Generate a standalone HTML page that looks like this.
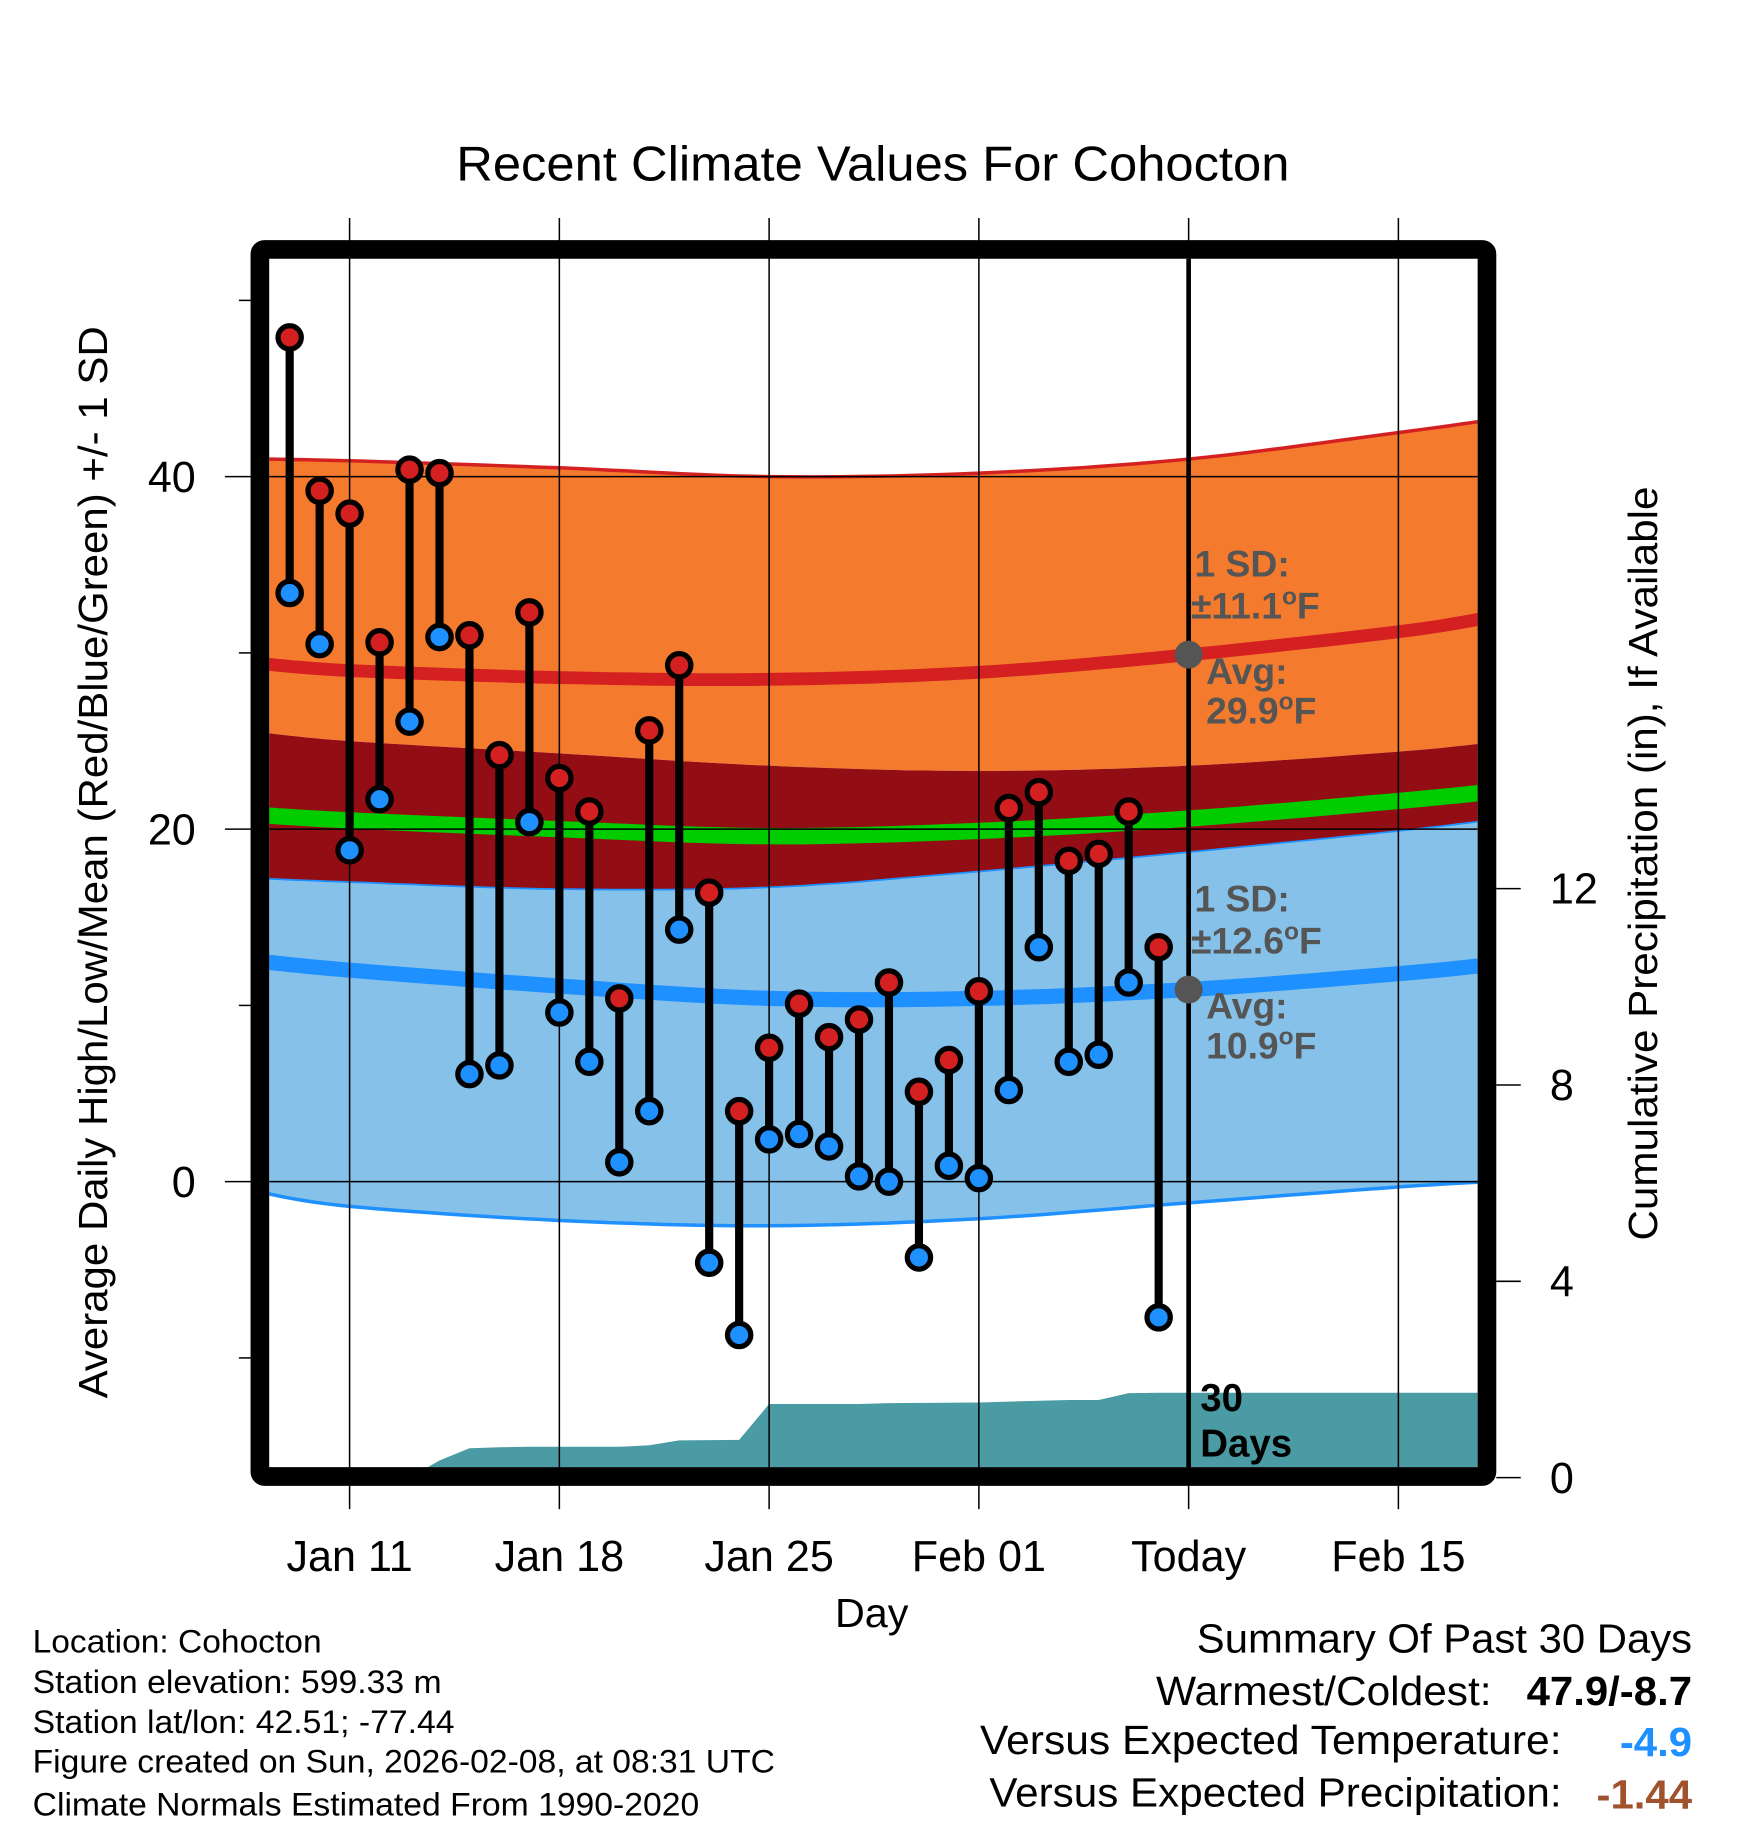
<!DOCTYPE html>
<html><head><meta charset="utf-8"><style>html,body{margin:0;padding:0;background:#fff}svg{display:block}text{font-family:"Liberation Sans",Arial,sans-serif}</style></head>
<body>
<svg id="chart" xmlns="http://www.w3.org/2000/svg" width="1748" height="1828" viewBox="0 0 1500 1568.6">
<defs><clipPath id="plotclip"><rect x="231" y="222" width="1037" height="1037"/></clipPath></defs>
<rect width="1500" height="1568.6" fill="#fff"/>
<text x="749" y="155" font-size="42" text-anchor="middle" textLength="715" lengthAdjust="spacingAndGlyphs">Recent Climate Values For Cohocton</text>
<g id="bands" clip-path="url(#plotclip)"></g>
<g id="grid"></g>
<g id="marks"></g>
<g id="annot"></g>
<rect x="223" y="214" width="1053" height="1053" fill="none" stroke="#000" stroke-width="16" rx="4"/>
<g id="axes"></g>
<text transform="translate(92,740) rotate(-90)" font-size="35" text-anchor="middle" textLength="920" lengthAdjust="spacingAndGlyphs">Average Daily High/Low/Mean (Red/Blue/Green) +/- 1 SD</text>
<text transform="translate(1422,741) rotate(-90)" font-size="35" text-anchor="middle" textLength="647" lengthAdjust="spacingAndGlyphs">Cumulative Precipitation (in), If Available</text>
<text x="748" y="1396" font-size="35" text-anchor="middle" textLength="63" lengthAdjust="spacingAndGlyphs">Day</text>
<g font-size="28">
<text x="28" y="1418" textLength="248" lengthAdjust="spacingAndGlyphs">Location: Cohocton</text>
<text x="28" y="1453" textLength="351" lengthAdjust="spacingAndGlyphs">Station elevation: 599.33 m</text>
<text x="28" y="1487" textLength="362" lengthAdjust="spacingAndGlyphs">Station lat/lon: 42.51; -77.44</text>
<text x="28" y="1521" textLength="637" lengthAdjust="spacingAndGlyphs">Figure created on Sun, 2026-02-08, at 08:31 UTC</text>
<text x="28" y="1558" textLength="572" lengthAdjust="spacingAndGlyphs">Climate Normals Estimated From 1990-2020</text>
</g>
<g font-size="35">
<text x="1027" y="1418" textLength="425" lengthAdjust="spacingAndGlyphs">Summary Of Past 30 Days</text>
<text x="992" y="1463" textLength="288" lengthAdjust="spacingAndGlyphs">Warmest/Coldest:</text>
<text x="1310" y="1463" font-weight="bold" textLength="142" lengthAdjust="spacingAndGlyphs">47.9/-8.7</text>
<text x="841" y="1505" textLength="499" lengthAdjust="spacingAndGlyphs">Versus Expected Temperature:</text>
<text x="1390" y="1507" font-weight="bold" fill="#1e90ff" textLength="62" lengthAdjust="spacingAndGlyphs">-4.9</text>
<text x="849" y="1550" textLength="491" lengthAdjust="spacingAndGlyphs">Versus Expected Precipitation:</text>
<text x="1370" y="1552" font-weight="bold" fill="#a0522d" textLength="82" lengthAdjust="spacingAndGlyphs">-1.44</text>
</g>
</svg>
<script>
// data
const normDays = [8, 11, 18, 25, 32, 39, 46, 49];
const highTop = [41.0, 40.9, 40.5, 40.0, 40.2, 41.0, 42.5, 43.2];
const highMean = [29.4, 29.0, 28.6, 28.5, 28.9, 29.9, 31.2, 32.0];
const highBot = [25.5, 25.0, 24.3, 23.6, 23.3, 23.6, 24.4, 24.9];
const meanLine = [20.8, 20.5, 20.0, 19.6, 19.9, 20.6, 21.6, 22.1];
const lowTop = [17.2, 17.0, 16.6, 16.7, 17.6, 18.7, 19.9, 20.5];
const lowMean = [12.5, 12.0, 11.1, 10.4, 10.4, 10.9, 11.8, 12.3];
const lowBot = [-0.6, -1.4, -2.2, -2.5, -2.1, -1.2, -0.3, 0.0];
const obsDays = [9,10,11,12,13,14,15,16,17,18,19,20,21,22,23,24,25,26,27,28,29,30,31,32,33,34,35,36,37,38];
const highs = [47.9,39.2,37.9,30.6,40.4,40.2,31.0,24.2,32.3,22.9,21.0,10.4,25.6,29.3,16.4,4.0,7.6,10.1,8.2,9.2,11.3,5.1,6.9,10.8,21.2,22.1,18.2,18.6,21.0,13.3];
const lows = [33.4,30.5,18.8,21.7,26.1,30.9,6.1,6.6,20.4,9.6,6.8,1.1,4.0,14.3,-4.6,-8.7,2.4,2.7,2.0,0.3,0.0,-4.3,0.9,0.2,5.2,13.3,6.8,7.2,11.3,-7.7];
const precipDays = [9,13,14,15,16,17,20,21,22,24,25,28,29,32,33,35,36,37,38,39,49];
const precipCum = [0,0,0.35,0.6,0.62,0.63,0.63,0.66,0.76,0.77,1.5,1.5,1.52,1.53,1.55,1.58,1.58,1.72,1.73,1.73,1.73];
const xTickDays = [11, 18, 25, 32, 39, 46];
const xTickLabels = ["Jan 11","Jan 18","Jan 25","Feb 01","Today","Feb 15"];
const yTicks = [0, 20, 40];
const yMinor = [-10, 10, 30, 50];
const y2Ticks = [0, 4, 8, 12];
const todayDay = 39;
const sdHigh = "11.1", avgHigh = 29.9, sdLow = "12.6", avgLow = 10.9;

const NS = "http://www.w3.org/2000/svg";
const X = d => 300 + (d - 11) * 25.714;
const Y = t => 1014 - t * 15.125;
const Y2 = p => 1268 - p * 42.125;
function mk(tag, attrs, parent) { const e = document.createElementNS(NS, tag); for (const k in attrs) e.setAttribute(k, attrs[k]); parent.appendChild(e); return e; }
const bands = document.getElementById('bands'), grid = document.getElementById('grid'), marks = document.getElementById('marks'), axes = document.getElementById('axes'), annot = document.getElementById('annot');
function smoothPts(arr, rev) {
  const p = normDays.map((d, i) => [X(d), Y(arr[i])]);
  const out = [];
  for (let i = 0; i < p.length - 1; i++) {
    const p0 = p[Math.max(0, i - 1)], p1 = p[i], p2 = p[i + 1], p3 = p[Math.min(p.length - 1, i + 2)];
    for (let s = 0; s < 12; s++) {
      const t = s / 12, t2 = t * t, t3 = t2 * t;
      const f = (a, b, c, d) => 0.5 * (2 * b + (-a + c) * t + (2 * a - 5 * b + 4 * c - d) * t2 + (-a + 3 * b - 3 * c + d) * t3);
      out.push(f(p0[0], p1[0], p2[0], p3[0]).toFixed(1) + ',' + f(p0[1], p1[1], p2[1], p3[1]).toFixed(1));
    }
  }
  out.push(p[p.length - 1][0].toFixed(1) + ',' + p[p.length - 1][1].toFixed(1));
  return rev ? out.reverse() : out;
}
function band(top, bot, fill, name) {
  const e = mk('polygon', { points: smoothPts(top).concat(smoothPts(bot, true)).join(' '), fill: fill }, bands);
  
  
}
function line(arr, color, w, name) {
  const e = mk('polyline', { points: smoothPts(arr).join(' '), fill: 'none', stroke: color, 'stroke-width': w }, bands);
  
  
}
band(highTop, highBot, '#f47a2e', 'high-sd-band');
band(highBot, lowTop, '#930e14', 'overlap-band');
band(lowTop, lowBot, '#85c1e9', 'low-sd-band');
line(highTop, '#d42020', 3, 'high-upper-line');
line(lowTop, '#1e90ff', 1.5, 'low-upper-line');
line(lowBot, '#1e90ff', 3, 'low-lower-line');
line(highMean, '#d42020', 11, 'high-mean-line');
line(meanLine, '#00cc00', 14, 'mean-line');
line(lowMean, '#1e90ff', 13, 'low-mean-line');
{
  const p = precipDays.map((d, i) => X(d).toFixed(1) + ',' + Y2(precipCum[i]).toFixed(1));
  p.push(X(49).toFixed(1) + ',' + Y2(0), X(9).toFixed(1) + ',' + Y2(0));
  const e = mk('polygon', { points: p.join(' '), fill: '#4a9ba3' }, bands);
  
  
}
xTickDays.forEach((d, i) => {
  const g = mk('line', { x1: X(d), x2: X(d), y1: 187, y2: 1295, stroke: '#000', 'stroke-width': 1.3 }, grid);
  
  
  const t = mk('text', { x: X(d), y: 1348, 'font-size': 37, 'text-anchor': 'middle' }, axes);
  t.textContent = xTickLabels[i];
  
  
});
yTicks.forEach(v => {
  const g = mk('line', { x1: 231, x2: 1268, y1: Y(v), y2: Y(v), stroke: '#000', 'stroke-width': 1.3 }, grid);
  
  
  mk('line', { x1: 193, x2: 215, y1: Y(v), y2: Y(v), stroke: '#000', 'stroke-width': 1.3 }, axes);
  const t = mk('text', { x: 168, y: Y(v) + 13, 'font-size': 37, 'text-anchor': 'end' }, axes);
  t.textContent = v;
  
  
});
yMinor.forEach(v => { mk('line', { x1: 205, x2: 215, y1: Y(v), y2: Y(v), stroke: '#000', 'stroke-width': 1.3 }, axes); });
y2Ticks.forEach(v => {
  mk('line', { x1: 1284, x2: 1305, y1: Y2(v), y2: Y2(v), stroke: '#000', 'stroke-width': 1.3 }, axes);
  const t = mk('text', { x: 1330, y: Y2(v) + 13, 'font-size': 37 }, axes);
  t.textContent = v;
  
  
});
{
  const e = mk('line', { x1: X(todayDay), x2: X(todayDay), y1: 222, y2: 1259, stroke: '#000', 'stroke-width': 4 }, grid);
  
  
}
obsDays.forEach((d, i) => {
  const b = mk('line', { x1: X(d), x2: X(d), y1: Y(highs[i]), y2: Y(lows[i]), stroke: '#000', 'stroke-width': 7 }, marks);
  
  
  const h = mk('circle', { cx: X(d), cy: Y(highs[i]), r: 10, fill: '#d42020', stroke: '#000', 'stroke-width': 4.5 }, marks);
  
  
  const l = mk('circle', { cx: X(d), cy: Y(lows[i]), r: 10, fill: '#1e90ff', stroke: '#000', 'stroke-width': 4.5 }, marks);
  
  
});
function txt(x, y, s, name, extra) {
  const t = mk('text', Object.assign({ x: x, y: y, 'font-size': 32, 'font-weight': 'bold', fill: '#555' }, extra || {}), annot);
  t.innerHTML = s;
  
  
}
[[avgHigh, sdHigh, 'high'], [avgLow, sdLow, 'low']].forEach(([avg, sd, k]) => {
  const yy = Y(avg);
  const c = mk('circle', { cx: X(todayDay), cy: yy, r: 12, fill: '#555' }, annot);
  
  
  txt(1025, yy - 67, '1 SD:', k + '-sd-label');
  txt(1022, yy - 31, '±' + sd + '<tspan dy="-12" font-size="21">o</tspan><tspan dy="12">F</tspan>', k + '-sd-value');
  txt(1035, yy + 25, 'Avg:', k + '-avg-label');
  txt(1035, yy + 59, avg.toFixed(1) + '<tspan dy="-12" font-size="21">o</tspan><tspan dy="12">F</tspan>', k + '-avg-value');
});
txt(1030, 1211, '30', 'days-count-label', { fill: '#000', 'font-size': 33 });
txt(1030, 1250, 'Days', 'days-word-label', { fill: '#000', 'font-size': 33 });
</script>
</body></html>
